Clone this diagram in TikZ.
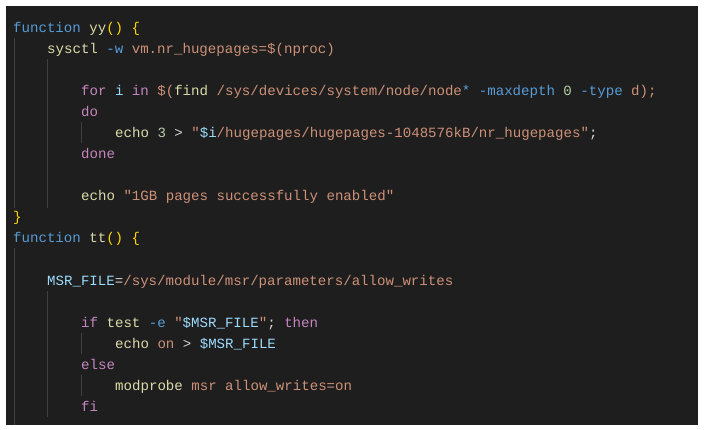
\documentclass[tikz,border=0pt]{standalone}
\usepackage{fontspec}
\setmonofont{Liberation Mono}
\definecolor{bg}{HTML}{1E1E1E}
\definecolor{kb}{HTML}{569CD6}
\definecolor{kp}{HTML}{C586C0}
\definecolor{fy}{HTML}{DCDCAA}
\definecolor{st}{HTML}{CE9178}
\definecolor{vr}{HTML}{9CDCFE}
\definecolor{nm}{HTML}{B5CEA8}
\definecolor{br}{HTML}{FFD700}
\definecolor{tx}{HTML}{D4D4D4}
\definecolor{gd}{HTML}{404040}
\newcommand\cB[1]{{\color{kb}#1}}
\newcommand\cP[1]{{\color{kp}#1}}
\newcommand\cY[1]{{\color{fy}#1}}
\newcommand\cS[1]{{\color{st}#1}}
\newcommand\cV[1]{{\color{vr}#1}}
\newcommand\cN[1]{{\color{nm}#1}}
\newcommand\cG[1]{{\color{br}#1}}
\begin{document}
\begin{tikzpicture}[x=1pt,y=-1pt,
  code/.style={anchor=base west,inner sep=0pt,font=\ttfamily\fontsize{14.1}{16}\selectfont,text=tx},
  guide/.style={draw=gd,line width=0.8pt}]
\useasboundingbox (0,0) rectangle (705,430);
\fill[white] (0,0) rectangle (705,430);
\fill[bg] (6,6) rectangle (698,425);
% indent guides
\draw[guide] (14,38) -- (14,208);
\draw[guide] (47,59) -- (47,208);
\draw[guide] (81,122) -- (81,143);
\draw[guide] (14,248) -- (14,425);
\draw[guide] (47,291) -- (47,417);
\draw[guide] (81,333) -- (81,354);
\draw[guide] (81,375) -- (81,396);
\def\ys{5}
\node[code] (l1) at (13,28+\ys) {\cB{function} \cY{yy}\cG{() \{}};
\node[code] (l2) at (47,49+\ys) {\cY{sysctl} \cB{-w} \cS{vm.nr\_hugepages=\$(nproc)}};
\node[code] (l4) at (81,91+\ys) {\cP{for} \cV{i} \cP{in} \cS{\$(}\cY{find} \cS{/sys/devices/system/node/node}\cB{* -maxdepth} \cN{0} \cB{-type} \cS{d);}};
\node[code] (l5) at (81,112+\ys) {\cP{do}};
\node[code] (l6) at (115,133+\ys) {\cY{echo} \cN{3} > \cS{"}\cV{\$i}\cS{/hugepages/hugepages-1048576kB/nr\_hugepages"};};
\node[code] (l7) at (81,154+\ys) {\cP{done}};
\node[code] (l9) at (81,196+\ys) {\cY{echo} \cS{"1GB pages successfully enabled"}};
\node[code] (l10) at (13,217+\ys) {\cG{\}}};
\node[code] (l11) at (13,238+\ys) {\cB{function} \cY{tt}\cG{() \{}};
\node[code] (l13) at (47,281+\ys) {\cV{MSR\_FILE}=\cS{/sys/module/msr/parameters/allow\_writes}};
\node[code] (l15) at (81,323+\ys) {\cP{if} \cY{test} \cB{-e} \cS{"}\cV{\$MSR\_FILE}\cS{"}; \cP{then}};
\node[code] (l16) at (115,344+\ys) {\cY{echo} \cS{on} > \cV{\$MSR\_FILE}};
\node[code] (l17) at (81,365+\ys) {\cP{else}};
\node[code] (l18) at (115,386+\ys) {\cY{modprobe} \cS{msr allow\_writes=on}};
\node[code] (l19) at (81,407+\ys) {\cP{fi}};
\end{tikzpicture}
\end{document}
